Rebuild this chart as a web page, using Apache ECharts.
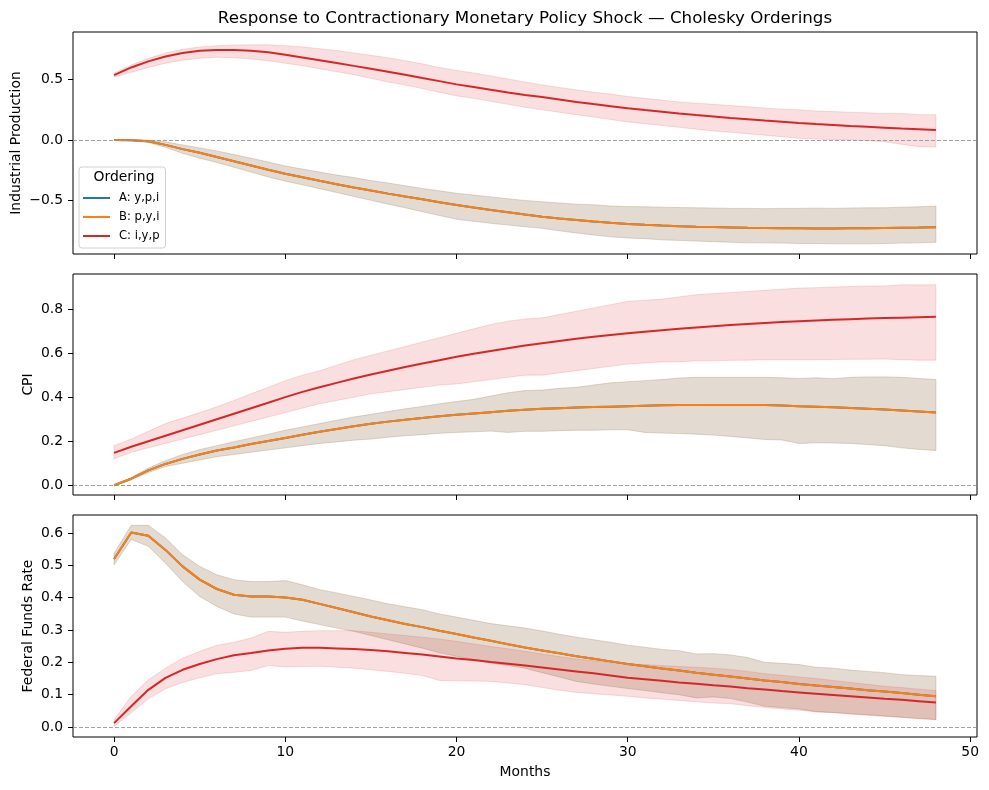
<!DOCTYPE html>
<html><head><meta charset="utf-8">
<script src="https://cdn.jsdelivr.net/npm/echarts@6/dist/echarts.min.js"></script>
<style>html,body{margin:0;padding:0;background:#fff}#c{width:989px;height:790px}</style>
</head><body><div id="c"></div>
<script>
const months = [0,1,2,3,4,5,6,7,8,9,10,11,12,13,14,15,16,17,18,19,20,21,22,23,24,25,26,27,28,29,30,31,32,33,34,35,36,37,38,39,40,41,42,43,44,45,46,47,48];
const seriesNames = ['A: y,p,i','B: p,y,i','C: i,y,p'];
const panelTitles = ['Industrial Production','CPI','Federal Funds Rate'];
const xTicks = [0,10,20,30,40,50];
const yTicks1 = [-0.5,0,0.5];
const yTicks2 = [0,0.2,0.4,0.6,0.8];
const yTicks3 = [0,0.1,0.2,0.3,0.4,0.5,0.6];

// Panel 1: Industrial Production
const ipA_mean = [0.000,-0.002,-0.010,-0.040,-0.075,-0.105,-0.140,-0.175,-0.210,-0.245,-0.278,-0.308,-0.337,-0.365,-0.392,-0.418,-0.443,-0.467,-0.490,-0.514,-0.537,-0.558,-0.578,-0.597,-0.616,-0.634,-0.648,-0.661,-0.673,-0.684,-0.694,-0.701,-0.707,-0.712,-0.716,-0.719,-0.722,-0.725,-0.727,-0.729,-0.730,-0.731,-0.731,-0.730,-0.729,-0.727,-0.725,-0.723,-0.720];
const ipA_up = [0.000,0.003,0.000,-0.015,-0.040,-0.065,-0.090,-0.120,-0.150,-0.182,-0.215,-0.240,-0.265,-0.290,-0.310,-0.335,-0.355,-0.378,-0.400,-0.420,-0.440,-0.455,-0.470,-0.485,-0.500,-0.510,-0.520,-0.530,-0.535,-0.545,-0.550,-0.552,-0.555,-0.558,-0.560,-0.562,-0.565,-0.565,-0.567,-0.565,-0.565,-0.563,-0.565,-0.562,-0.560,-0.560,-0.555,-0.552,-0.545];
const ipA_lo = [0.000,-0.005,-0.020,-0.060,-0.110,-0.150,-0.185,-0.225,-0.265,-0.305,-0.340,-0.370,-0.402,-0.434,-0.466,-0.498,-0.530,-0.560,-0.592,-0.624,-0.655,-0.672,-0.688,-0.703,-0.717,-0.730,-0.750,-0.768,-0.785,-0.800,-0.810,-0.815,-0.825,-0.830,-0.835,-0.840,-0.845,-0.850,-0.850,-0.852,-0.855,-0.855,-0.858,-0.858,-0.858,-0.855,-0.852,-0.850,-0.845];
const ipB_mean = [0.000,-0.002,-0.010,-0.040,-0.075,-0.105,-0.140,-0.175,-0.210,-0.245,-0.278,-0.308,-0.337,-0.365,-0.392,-0.418,-0.443,-0.467,-0.490,-0.514,-0.537,-0.558,-0.578,-0.597,-0.616,-0.634,-0.648,-0.661,-0.673,-0.684,-0.694,-0.701,-0.707,-0.712,-0.716,-0.719,-0.722,-0.725,-0.727,-0.729,-0.730,-0.731,-0.731,-0.730,-0.729,-0.727,-0.725,-0.723,-0.720];
const ipB_up = [0.000,0.003,0.000,-0.015,-0.040,-0.065,-0.090,-0.120,-0.150,-0.182,-0.215,-0.240,-0.265,-0.290,-0.310,-0.335,-0.355,-0.378,-0.400,-0.420,-0.440,-0.455,-0.470,-0.485,-0.500,-0.510,-0.520,-0.530,-0.535,-0.545,-0.550,-0.552,-0.555,-0.558,-0.560,-0.562,-0.565,-0.565,-0.567,-0.565,-0.565,-0.563,-0.565,-0.562,-0.560,-0.560,-0.555,-0.552,-0.545];
const ipB_lo = [0.000,-0.005,-0.020,-0.060,-0.110,-0.150,-0.185,-0.225,-0.265,-0.305,-0.340,-0.370,-0.402,-0.434,-0.466,-0.498,-0.530,-0.560,-0.592,-0.624,-0.655,-0.672,-0.688,-0.703,-0.717,-0.730,-0.750,-0.768,-0.785,-0.800,-0.810,-0.815,-0.825,-0.830,-0.835,-0.840,-0.845,-0.850,-0.850,-0.852,-0.855,-0.855,-0.858,-0.858,-0.858,-0.855,-0.852,-0.850,-0.845];
const ipC_mean = [0.537,0.600,0.650,0.690,0.720,0.738,0.745,0.745,0.738,0.725,0.705,0.683,0.660,0.637,0.613,0.590,0.565,0.540,0.513,0.487,0.460,0.438,0.415,0.393,0.373,0.355,0.335,0.315,0.297,0.280,0.263,0.248,0.234,0.220,0.207,0.195,0.183,0.172,0.161,0.151,0.141,0.132,0.124,0.116,0.109,0.102,0.095,0.089,0.083];
const ipC_up = [0.553,0.620,0.675,0.720,0.750,0.770,0.780,0.785,0.787,0.787,0.780,0.770,0.755,0.740,0.720,0.700,0.680,0.655,0.630,0.600,0.575,0.555,0.530,0.505,0.480,0.455,0.435,0.415,0.395,0.380,0.360,0.345,0.330,0.315,0.305,0.295,0.285,0.275,0.265,0.255,0.250,0.240,0.235,0.230,0.225,0.220,0.220,0.210,0.210];
const ipC_lo = [0.520,0.560,0.600,0.635,0.660,0.675,0.685,0.680,0.670,0.655,0.635,0.615,0.590,0.565,0.540,0.510,0.480,0.455,0.425,0.395,0.365,0.345,0.320,0.295,0.270,0.250,0.230,0.210,0.190,0.170,0.150,0.135,0.120,0.105,0.090,0.075,0.065,0.052,0.040,0.027,0.015,0.008,0.003,0.000,-0.005,-0.015,-0.035,-0.055,-0.058];

// Panel 2: CPI
const cpiA_mean = [0.000,0.030,0.068,0.097,0.120,0.140,0.158,0.172,0.187,0.201,0.215,0.229,0.243,0.256,0.268,0.279,0.289,0.298,0.306,0.313,0.320,0.326,0.332,0.338,0.343,0.347,0.350,0.353,0.355,0.357,0.359,0.361,0.363,0.364,0.365,0.365,0.365,0.365,0.364,0.362,0.359,0.357,0.354,0.351,0.348,0.344,0.340,0.335,0.330];
const cpiA_up = [0.000,0.035,0.078,0.112,0.140,0.162,0.180,0.198,0.215,0.232,0.250,0.265,0.280,0.295,0.310,0.322,0.335,0.347,0.358,0.370,0.380,0.390,0.405,0.420,0.430,0.432,0.440,0.445,0.455,0.465,0.470,0.475,0.480,0.487,0.490,0.490,0.490,0.490,0.490,0.488,0.485,0.488,0.484,0.490,0.492,0.492,0.490,0.485,0.480];
const cpiA_lo = [0.000,0.025,0.058,0.085,0.100,0.115,0.130,0.140,0.150,0.160,0.170,0.180,0.190,0.197,0.205,0.210,0.218,0.225,0.230,0.236,0.240,0.243,0.246,0.240,0.245,0.245,0.248,0.250,0.250,0.252,0.252,0.240,0.237,0.235,0.232,0.228,0.222,0.215,0.208,0.206,0.190,0.193,0.192,0.190,0.185,0.180,0.170,0.163,0.158];
const cpiB_mean = [0.000,0.030,0.068,0.097,0.120,0.140,0.158,0.172,0.187,0.201,0.215,0.229,0.243,0.256,0.268,0.279,0.289,0.298,0.306,0.313,0.320,0.326,0.332,0.338,0.343,0.347,0.350,0.353,0.355,0.357,0.359,0.361,0.363,0.364,0.365,0.365,0.365,0.365,0.364,0.362,0.359,0.357,0.354,0.351,0.348,0.344,0.340,0.335,0.330];
const cpiB_up = [0.000,0.035,0.078,0.112,0.140,0.162,0.180,0.198,0.215,0.232,0.250,0.265,0.280,0.295,0.310,0.322,0.335,0.347,0.358,0.370,0.380,0.390,0.405,0.420,0.430,0.432,0.440,0.445,0.455,0.465,0.470,0.475,0.480,0.487,0.490,0.490,0.490,0.490,0.490,0.488,0.485,0.488,0.484,0.490,0.492,0.492,0.490,0.485,0.480];
const cpiB_lo = [0.000,0.025,0.058,0.085,0.100,0.115,0.130,0.140,0.150,0.160,0.170,0.180,0.190,0.197,0.205,0.210,0.218,0.225,0.230,0.236,0.240,0.243,0.246,0.240,0.245,0.245,0.248,0.250,0.250,0.252,0.252,0.240,0.237,0.235,0.232,0.228,0.222,0.215,0.208,0.206,0.190,0.193,0.192,0.190,0.185,0.180,0.170,0.163,0.158];
const cpiC_mean = [0.147,0.175,0.200,0.225,0.250,0.275,0.300,0.325,0.350,0.375,0.400,0.424,0.445,0.465,0.485,0.503,0.520,0.537,0.553,0.568,0.583,0.597,0.610,0.622,0.634,0.645,0.655,0.665,0.674,0.682,0.690,0.697,0.704,0.710,0.716,0.722,0.727,0.732,0.737,0.741,0.745,0.748,0.751,0.754,0.757,0.759,0.761,0.763,0.765];
const cpiC_up = [0.180,0.210,0.245,0.280,0.305,0.330,0.356,0.385,0.415,0.445,0.475,0.500,0.520,0.545,0.570,0.590,0.610,0.630,0.650,0.670,0.690,0.710,0.730,0.745,0.755,0.760,0.775,0.790,0.805,0.820,0.835,0.840,0.845,0.855,0.865,0.870,0.875,0.880,0.885,0.890,0.895,0.897,0.900,0.902,0.905,0.905,0.910,0.910,0.910];
const cpiC_lo = [0.120,0.150,0.170,0.190,0.210,0.230,0.250,0.270,0.290,0.310,0.330,0.350,0.370,0.385,0.400,0.415,0.425,0.435,0.445,0.455,0.460,0.470,0.480,0.490,0.500,0.500,0.510,0.520,0.530,0.540,0.550,0.555,0.560,0.560,0.565,0.565,0.567,0.568,0.570,0.570,0.570,0.570,0.571,0.572,0.572,0.573,0.570,0.568,0.568];

// Panel 3: Federal Funds Rate
const ffA_mean = [0.520,0.602,0.592,0.548,0.497,0.456,0.427,0.409,0.404,0.404,0.401,0.394,0.381,0.368,0.355,0.342,0.330,0.319,0.309,0.298,0.288,0.277,0.267,0.256,0.246,0.237,0.228,0.219,0.211,0.203,0.195,0.188,0.181,0.175,0.168,0.162,0.156,0.150,0.144,0.139,0.133,0.128,0.124,0.119,0.114,0.110,0.105,0.100,0.095];
const ffA_up = [0.538,0.624,0.624,0.585,0.533,0.497,0.471,0.456,0.450,0.450,0.453,0.440,0.425,0.415,0.404,0.393,0.381,0.372,0.363,0.350,0.340,0.330,0.320,0.313,0.306,0.297,0.287,0.278,0.270,0.262,0.253,0.247,0.240,0.236,0.226,0.227,0.223,0.215,0.200,0.197,0.193,0.185,0.182,0.176,0.172,0.168,0.162,0.159,0.157];
const ffA_lo = [0.502,0.580,0.559,0.507,0.450,0.404,0.373,0.350,0.340,0.340,0.340,0.328,0.317,0.306,0.296,0.283,0.270,0.257,0.244,0.230,0.219,0.208,0.198,0.190,0.182,0.168,0.155,0.141,0.133,0.126,0.119,0.113,0.106,0.100,0.090,0.093,0.088,0.077,0.064,0.060,0.056,0.047,0.045,0.041,0.038,0.034,0.030,0.026,0.023];
const ffB_mean = [0.520,0.602,0.592,0.548,0.497,0.456,0.427,0.409,0.404,0.404,0.401,0.394,0.381,0.368,0.355,0.342,0.330,0.319,0.309,0.298,0.288,0.277,0.267,0.256,0.246,0.237,0.228,0.219,0.211,0.203,0.195,0.188,0.181,0.175,0.168,0.162,0.156,0.150,0.144,0.139,0.133,0.128,0.124,0.119,0.114,0.110,0.105,0.100,0.095];
const ffB_up = [0.538,0.624,0.624,0.585,0.533,0.497,0.471,0.456,0.450,0.450,0.453,0.440,0.425,0.415,0.404,0.393,0.381,0.372,0.363,0.350,0.340,0.330,0.320,0.313,0.306,0.297,0.287,0.278,0.270,0.262,0.253,0.247,0.240,0.236,0.226,0.227,0.223,0.215,0.200,0.197,0.193,0.185,0.182,0.176,0.172,0.168,0.162,0.159,0.157];
const ffB_lo = [0.502,0.580,0.559,0.507,0.450,0.404,0.373,0.350,0.340,0.340,0.340,0.328,0.317,0.306,0.296,0.283,0.270,0.257,0.244,0.230,0.219,0.208,0.198,0.190,0.182,0.168,0.155,0.141,0.133,0.126,0.119,0.113,0.106,0.100,0.090,0.093,0.088,0.077,0.064,0.060,0.056,0.047,0.045,0.041,0.038,0.034,0.030,0.026,0.023];
const ffC_mean = [0.012,0.064,0.115,0.152,0.177,0.195,0.210,0.222,0.229,0.237,0.242,0.245,0.245,0.243,0.241,0.238,0.234,0.229,0.224,0.218,0.212,0.207,0.201,0.196,0.190,0.184,0.178,0.172,0.166,0.159,0.152,0.148,0.143,0.138,0.134,0.129,0.125,0.120,0.116,0.111,0.107,0.103,0.099,0.095,0.091,0.087,0.084,0.080,0.076];
const ffC_up = [0.023,0.095,0.146,0.182,0.213,0.234,0.253,0.262,0.275,0.296,0.293,0.296,0.298,0.298,0.298,0.293,0.288,0.283,0.278,0.272,0.265,0.257,0.249,0.242,0.234,0.226,0.218,0.210,0.205,0.200,0.196,0.193,0.190,0.187,0.185,0.182,0.178,0.172,0.165,0.160,0.155,0.150,0.144,0.138,0.132,0.126,0.122,0.117,0.113];
const ffC_lo = [0.002,0.043,0.087,0.118,0.138,0.152,0.165,0.169,0.175,0.190,0.186,0.187,0.188,0.185,0.182,0.177,0.172,0.166,0.159,0.144,0.143,0.142,0.141,0.136,0.131,0.122,0.114,0.107,0.103,0.099,0.095,0.090,0.086,0.082,0.078,0.074,0.072,0.066,0.060,0.056,0.052,0.047,0.044,0.040,0.036,0.033,0.030,0.026,0.023];

const FONT = 'DejaVu Sans';
const colors = ['#1f77b4','#ff7f0e','#d62728'];
const rgbs = ['31,119,180','255,127,14','214,39,40'];

const panels = [
  {A:[ipA_mean,ipA_up,ipA_lo], B:[ipB_mean,ipB_up,ipB_lo], C:[ipC_mean,ipC_up,ipC_lo], min:-0.942, max:0.893, ticks:yTicks1, gap:50},
  {A:[cpiA_mean,cpiA_up,cpiA_lo], B:[cpiB_mean,cpiB_up,cpiB_lo], C:[cpiC_mean,cpiC_up,cpiC_lo], min:-0.044, max:0.959, ticks:yTicks2, gap:38},
  {A:[ffA_mean,ffA_up,ffA_lo], B:[ffB_mean,ffB_up,ffB_lo], C:[ffC_mean,ffC_up,ffC_lo], min:-0.031, max:0.656, ticks:yTicks3, gap:38}
];
const gridBoxes = [{top:32,height:222},{top:274,height:221},{top:515,height:222}];

function fmt(v){ return (v < 0 ? '\u2212' : '') + Math.abs(v).toFixed(1); }

function band(gi, up, lo, rgb, key){
  return {
    type:'custom', name:'band'+key+gi, xAxisIndex:gi, yAxisIndex:gi, coordinateSystem:'cartesian2d',
    data:[[0,0]], silent:true, clip:true, animation:false,
    renderItem:function(params, api){
      const pts = [];
      for (let i=0;i<months.length;i++) pts.push(api.coord([months[i], up[i]]));
      for (let i=months.length-1;i>=0;i--) pts.push(api.coord([months[i], lo[i]]));
      return {type:'polygon', shape:{points:pts}, style:{fill:'rgba('+rgb+',0.15)', stroke:'rgba('+rgb+',0.15)', lineWidth:1}};
    }
  };
}
function line(gi, name, vals, color, withZero){
  const s = {
    type:'line', name:name, xAxisIndex:gi, yAxisIndex:gi,
    data: months.map((m,i)=>[m, vals[i]]),
    symbol:'none', showSymbol:false, animation:false,
    lineStyle:{width:2, color:color}, itemStyle:{color:color}
  };
  if (withZero) {
    s.markLine = {silent:true, symbol:'none', label:{show:false}, animation:false,
      lineStyle:{color:'#8c8c8c', width:0.8, type:[4,2]}, data:[{yAxis:0}]};
  }
  return s;
}

const grid = [], xAxis = [], yAxis = [], series = [];
panels.forEach((p, gi) => {
  grid.push({left:73, width:904, top:gridBoxes[gi].top, height:gridBoxes[gi].height,
    show:true, borderColor:'#000', borderWidth:1, backgroundColor:'transparent', containLabel:false});
  xAxis.push({type:'value', gridIndex:gi, min:-2.4, max:50.4, position:'bottom',
    axisLine:{show:false, onZero:false}, splitLine:{show:false},
    axisTick:{show:true, customValues:xTicks, length:5, lineStyle:{color:'#000', width:1}},
    axisLabel:{show: gi===2, customValues:xTicks, margin:8, color:'#000', fontFamily:FONT, fontSize:13.9},
    name: gi===2 ? 'Months' : '', nameLocation:'middle', nameGap:28, nameMoveOverlap:false,
    nameTextStyle:{color:'#000', fontFamily:FONT, fontSize:13.9}
  });
  yAxis.push({type:'value', gridIndex:gi, min:p.min, max:p.max, position:'left',
    axisLine:{show:false, onZero:false}, splitLine:{show:false},
    axisTick:{show:true, customValues:p.ticks, length:5, lineStyle:{color:'#000', width:1}},
    axisLabel:{customValues:p.ticks, formatter:fmt, margin:10, color:'#000', fontFamily:FONT, fontSize:13.9},
    name: panelTitles[gi], nameLocation:'middle', nameGap:p.gap, nameMoveOverlap:false,
    nameTextStyle:{color:'#000', fontFamily:FONT, fontSize:13.9}
  });
  series.push(band(gi, p.A[1], p.A[2], rgbs[0], 'A'));
  series.push(line(gi, seriesNames[0], p.A[0], colors[0], true));
  series.push(band(gi, p.B[1], p.B[2], rgbs[1], 'B'));
  series.push(line(gi, seriesNames[1], p.B[0], colors[1], false));
  series.push(band(gi, p.C[1], p.C[2], rgbs[2], 'C'));
  series.push(line(gi, seriesNames[2], p.C[0], colors[2], false));
});

const chart = echarts.init(document.getElementById('c'), null, {renderer:'canvas'});
chart.setOption({
  animation:false,
  backgroundColor:'#fff',
  grid: grid, xAxis: xAxis, yAxis: yAxis, series: series,
  legend:{
    data: seriesNames, orient:'vertical', left:79, top:167, icon:'rect',
    padding:[24,6,5,4], itemWidth:27, itemHeight:2, itemGap:5,
    backgroundColor:'rgba(255,255,255,0.8)', borderColor:'#d0d0d0', borderWidth:1, borderRadius:3,
    textStyle:{fontFamily:FONT, fontSize:11.6, color:'#000', lineHeight:14, padding:[0,0,0,4]}, selectedMode:false
  },
  graphic:[
    {type:'text', x:525, y:19, z:100, style:{text:'Response to Contractionary Monetary Policy Shock \u2014 Cholesky Orderings',
      font:'16.7px "DejaVu Sans"', fill:'#000', textAlign:'center', textVerticalAlign:'middle'}},
    {type:'text', x:124, y:177, z:100, style:{text:'Ordering', font:'13.9px "DejaVu Sans"', fill:'#000', textAlign:'center', textVerticalAlign:'middle'}}
  ]
});
</script></body></html>
